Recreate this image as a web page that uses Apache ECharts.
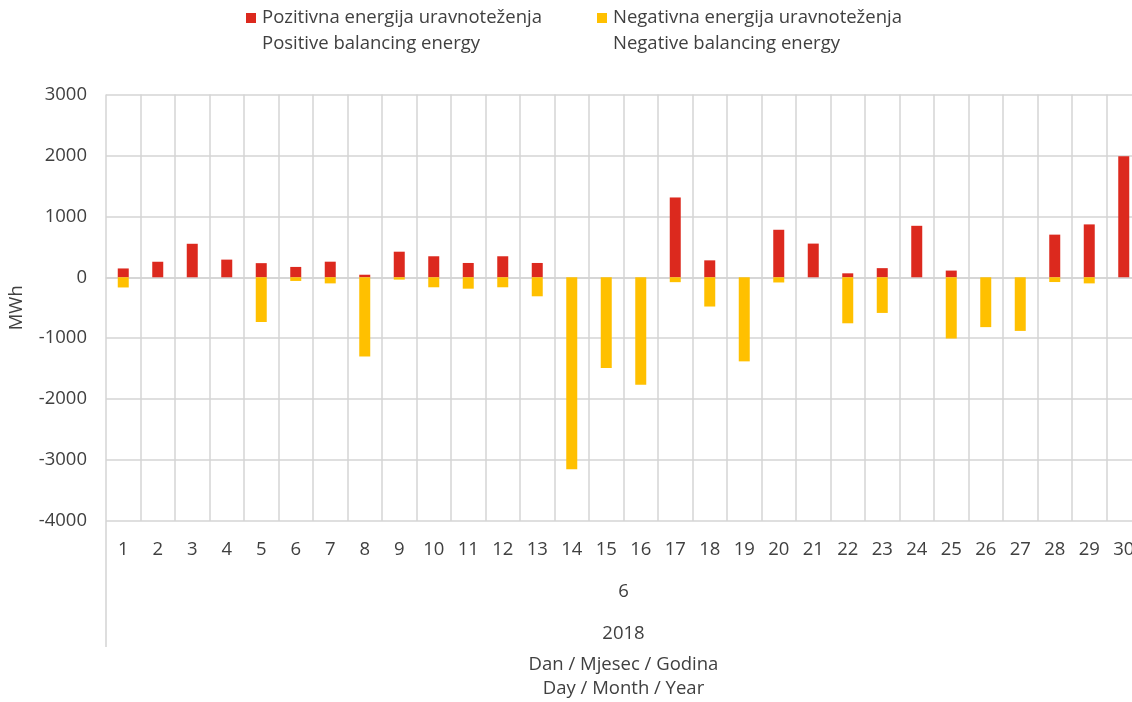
<!DOCTYPE html>
<html>
<head>
<meta charset="utf-8">
<script src="https://cdn.jsdelivr.net/npm/echarts@6/dist/echarts.min.js"></script>
<style>
html,body{margin:0;padding:0;background:#fff;}
#chart{width:1132px;height:702px;}
</style>
</head>
<body>
<div id="chart"></div>
<script>
const days = ['1','2','3','4','5','6','7','8','9','10','11','12','13','14','15','16','17','18','19','20','21','22','23','24','25','26','27','28','29','30'];
const months = ['6'];
const years = ['2018'];
const seriesNamesHr = ['Pozitivna energija uravnoteženja', 'Negativna energija uravnoteženja'];
const seriesNamesEn = ['Positive balancing energy', 'Negative balancing energy'];
const positiveEnergy = [145, 255, 550, 290, 232, 170, 256, 42, 420, 345, 235, 345, 235, 0, 0, 0, 1310, 278, 0, 780, 553, 65, 150, 845, 110, 0, 0, 700, 868, 1985];
const negativeEnergy = [-167, 0, 0, 0, -734, -60, -100, -1300, -38, -164, -187, -164, -312, -3152, -1489, -1763, -80, -480, -1380, -85, 0, -755, -585, 0, -1005, -818, -880, -78, -100, 0];
const yTicks = {min: -4000, max: 3000, interval: 1000};
const yAxisName = 'MWh';
const xAxisTitle = 'Dan / Mjesec / Godina\nDay / Month / Year';

const FONT = 'Open Sans';
const FS = 18.5;
const TXT = '#404040';
const GRID = '#d4d4d4';
const ICON = 'path://M0,0h0.1v0.1h-0.1z M0,8h10v10h-10z M0,51.9h0.1v0.1h-0.1z';

const chart = echarts.init(document.getElementById('chart'), null, {renderer: 'canvas'});

function legendFor(i, left) {
  return {
    show: true,
    left: left,
    top: 5,
    orient: 'horizontal',
    data: [seriesNamesHr[i]],
    icon: ICON,
    itemWidth: 10,
    itemHeight: 52,
    itemGap: 0,
    padding: 0,
    selectedMode: false,
    formatter: function (name) {
      const idx = seriesNamesHr.indexOf(name);
      return name + '\n' + seriesNamesEn[idx];
    },
    textStyle: {fontFamily: FONT, fontSize: FS, color: TXT, lineHeight: 26, padding: [0, 0, 0, 1]}
  };
}

const option = {
  animation: false,
  backgroundColor: '#ffffff',
  textStyle: {fontFamily: FONT},
  legend: [legendFor(0, 246), legendFor(1, 597)],
  grid: {left: 106, width: 1035, top: 94.5, height: 426.5, containLabel: false, outerBoundsMode: 'none'},
  xAxis: [
    {
      type: 'category',
      data: days,
      boundaryGap: true,
      axisLine: {show: true, lineStyle: {color: GRID, width: 1.5}},
      axisTick: {show: false},
      axisLabel: {interval: 0, margin: 19, fontFamily: FONT, fontSize: FS, color: TXT},
      splitLine: {show: true, interval: 0, lineStyle: {color: GRID, width: 1.5}},
      name: xAxisTitle,
      nameLocation: 'middle',
      nameGap: 132,
      nameTextStyle: {fontFamily: FONT, fontSize: FS, color: TXT, lineHeight: 24}
    },
    {
      type: 'category',
      data: months,
      position: 'bottom',
      boundaryGap: true,
      axisLine: {show: false},
      axisTick: {show: true, length: 126, lineStyle: {color: GRID, width: 1.5}},
      axisLabel: {margin: 61, fontFamily: FONT, fontSize: FS, color: TXT},
      splitLine: {show: false}
    },
    {
      type: 'category',
      data: years,
      position: 'bottom',
      boundaryGap: true,
      axisLine: {show: false},
      axisTick: {show: false},
      axisLabel: {margin: 103, fontFamily: FONT, fontSize: FS, color: TXT},
      splitLine: {show: false}
    }
  ],
  yAxis: {
    type: 'value',
    min: yTicks.min,
    max: yTicks.max,
    interval: yTicks.interval,
    axisLine: {show: false},
    axisTick: {show: false},
    axisLabel: {margin: 19, fontFamily: FONT, fontSize: FS, color: TXT, formatter: function (v) { return String(v); }},
    splitLine: {show: true, lineStyle: {color: GRID, width: 1.5}},
    name: yAxisName,
    nameLocation: 'middle',
    nameGap: 80,
    nameTextStyle: {fontFamily: FONT, fontSize: FS, color: TXT}
  },
  series: [
    {
      name: seriesNamesHr[0],
      type: 'bar',
      xAxisIndex: 0,
      data: positiveEnergy,
      barWidth: 11,
      barGap: '-100%',
      itemStyle: {color: '#DC291E'}
    },
    {
      name: seriesNamesHr[1],
      type: 'bar',
      xAxisIndex: 0,
      data: negativeEnergy,
      barWidth: 11,
      barGap: '-100%',
      itemStyle: {color: '#FFC000'}
    }
  ]
};
chart.setOption(option);
</script>
</body>
</html>
